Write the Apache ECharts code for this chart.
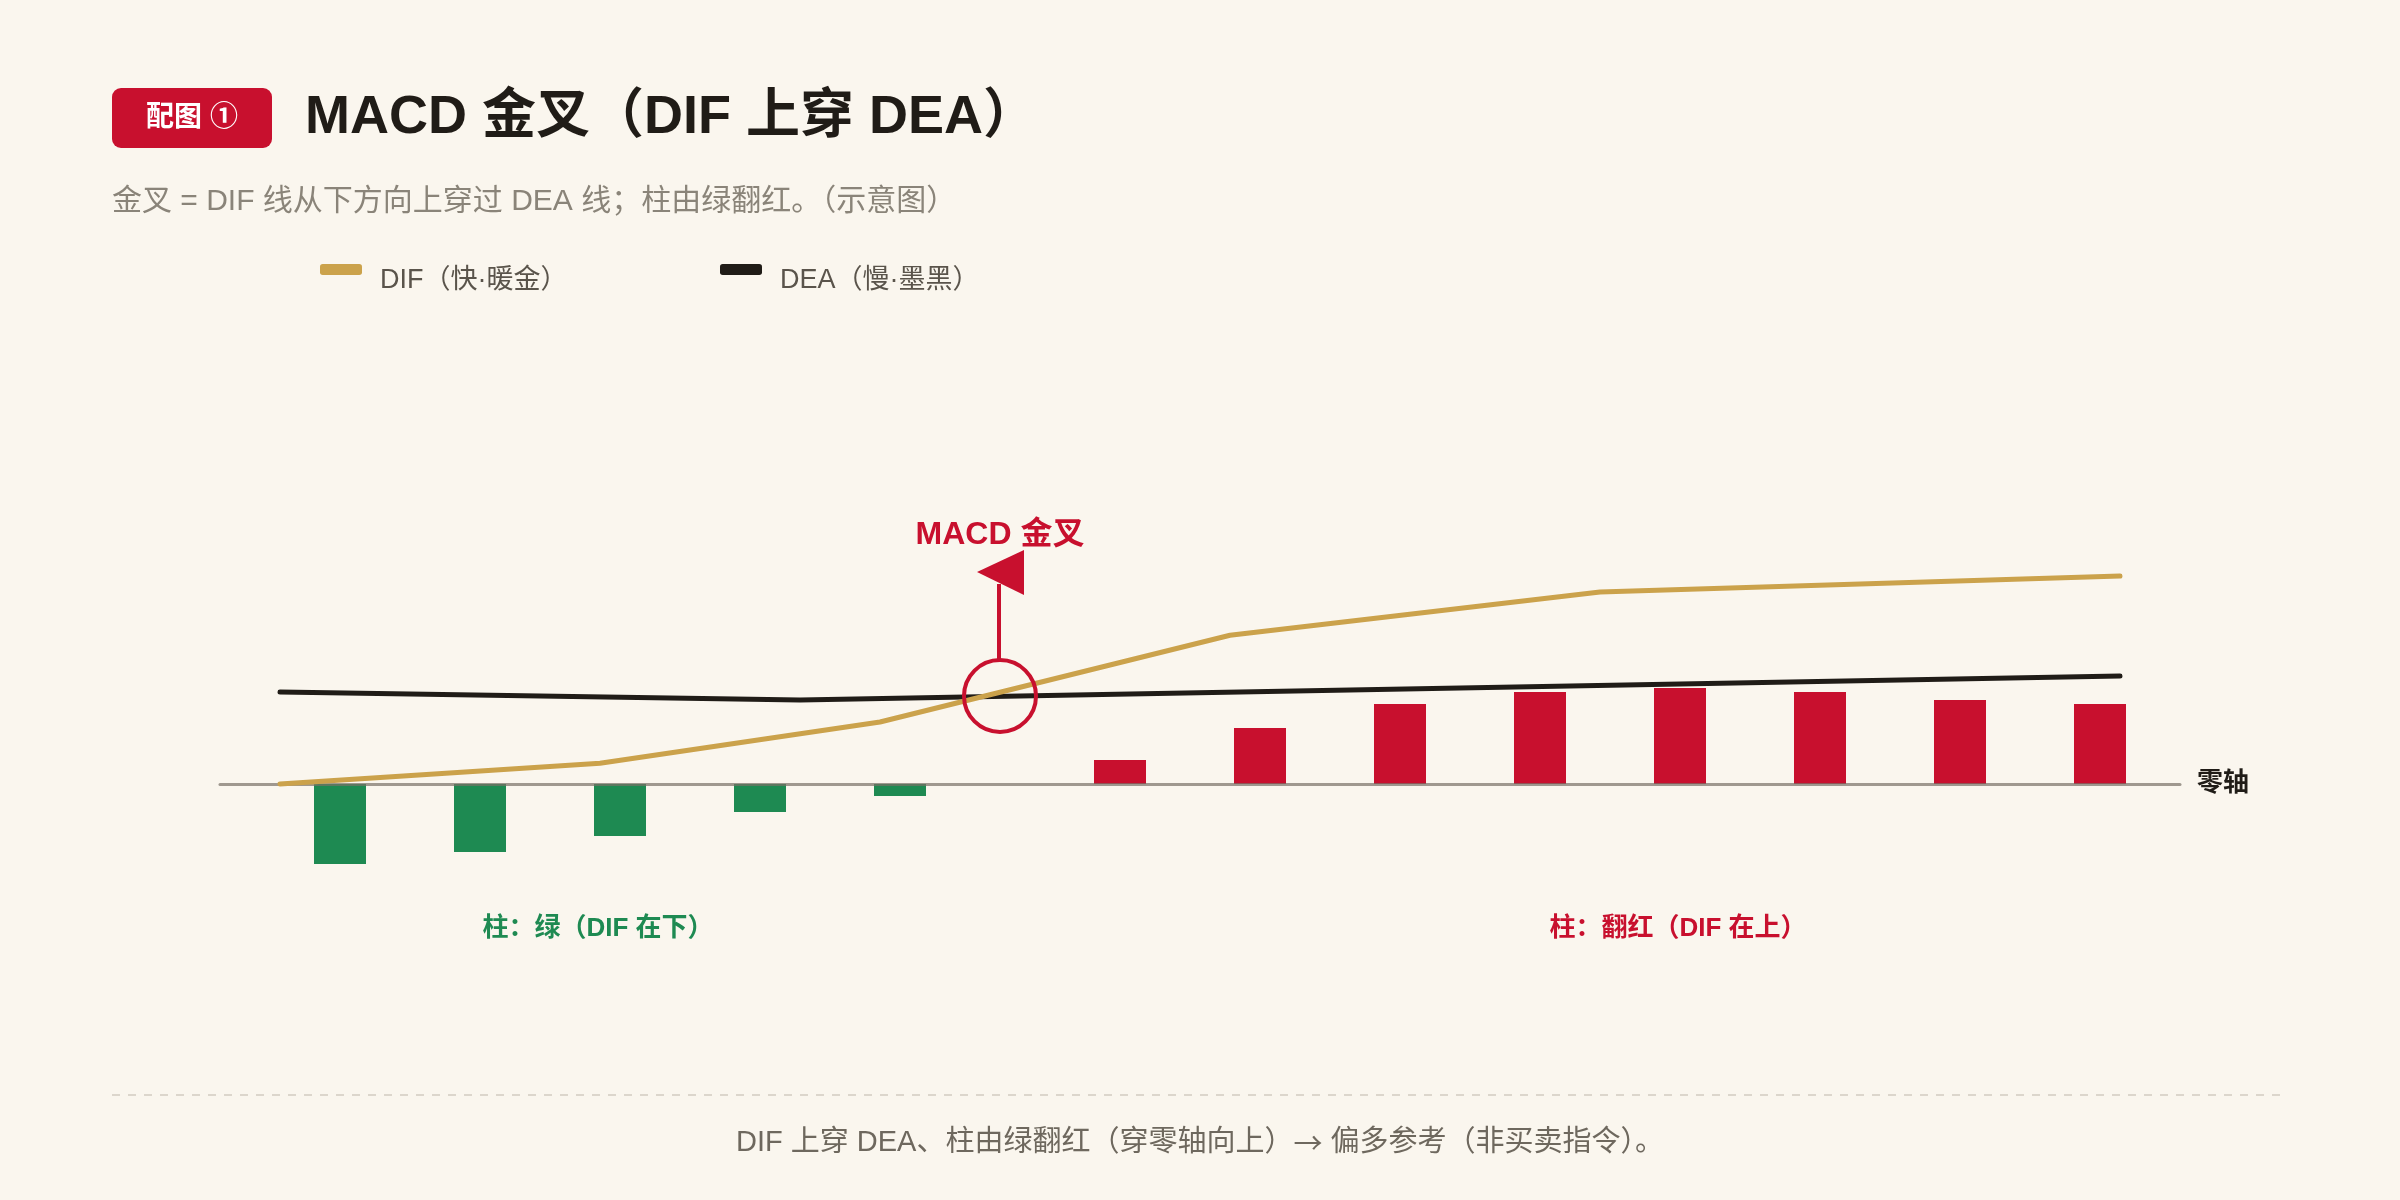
<!DOCTYPE html>
<html>
<head>
<meta charset="utf-8">
<title>MACD 金叉</title>
<script src="https://cdn.jsdelivr.net/npm/echarts@6/dist/echarts.min.js"></script>
<style>
    html, body {margin: 0; padding: 0; background: #FAF6EE;}
    #macdChart {width: 2400px; height: 1200px;}
</style>
</head>
<body>
<div id="macdChart"></div>
<script>
// 柱的位置（横向单位）和高度
var barX = [6, 13, 20, 27, 34, 45, 52, 59, 66, 73, 80, 87, 94];
var barValue = [-20, -17, -13, -7, -3, 6, 14, 20, 23, 24, 23, 21, 20];
// 两条线的折点
var difX = [3, 19, 33, 50.5, 69, 95];
var difValue = [0, 5.2, 15.5, 37.2, 48, 52];
var deaX = [3, 29, 95];
var deaValue = [23, 21, 27];
// 金叉位置
var crossPoint = [39, 22];

var seriesNames = ['DIF（快·暖金）', 'DEA（慢·墨黑）'];
var fontFamily = "'Liberation Sans', 'Noto Sans CJK SC', sans-serif";
var cjkFirst = "'Noto Sans CJK SC', 'Liberation Sans', sans-serif";

var RED = '#C8102E', GREEN = '#1E8A52', GOLD = '#CBA24B', INK = '#201C17';

var pairs = function (xs, ys) {
    var out = [];
    for (var i = 0; i < xs.length; i++) {
        out.push([xs[i], ys[i]]);
    }
    return out;
};

var legendItem = function (name, left) {
    return {
        data: [name],
        left: left,
        top: 264,
        padding: 0,
        icon: 'roundRect',
        itemWidth: 42,
        itemHeight: 11,
        formatter: function (n) {
            return '{t|' + n + '}';
        },
        textStyle: {
            padding: [0, 0, 0, 13],
            rich: {t: {fontSize: 27, color: '#5A544B', padding: [22, 0, 0, 0]}}
        }
    };
};

var myChart = echarts.init(document.getElementById("macdChart"));

var option = {
    backgroundColor: '#FAF6EE',
    animation: false,
    textStyle: {fontFamily: fontFamily},
    title: [
        {
            text: 'MACD 金叉（DIF 上穿 DEA）',
            left: 305,
            top: 88,
            padding: 0,
            textStyle: {fontSize: 54, fontWeight: 'bold', color: INK, lineHeight: 60, fontFamily: fontFamily}
        },
        {
            text: '金叉 = DIF 线从下方向上穿过 DEA 线；柱由绿翻红。（示意图）',
            left: 112,
            top: 185,
            padding: 0,
            textStyle: {fontSize: 30, fontWeight: 'normal', color: '#8A8479', lineHeight: 34, fontFamily: fontFamily}
        }
    ],
    legend: [legendItem(seriesNames[0], 320), legendItem(seriesNames[1], 720)],
    grid: {left: 220, right: 220, top: 544, bottom: 256},
    xAxis: {
        type: 'value',
        min: 0,
        max: 98,
        z: 3,
        name: '零轴',
        nameLocation: 'end',
        nameGap: 17,
        nameTextStyle: {fontSize: 26, fontWeight: 'bold', color: INK, align: 'left', verticalAlign: 'middle'},
        axisLine: {show: true, onZero: true, lineStyle: {color: 'rgba(120,113,103,0.7)', width: 3}},
        axisTick: {show: false},
        axisLabel: {show: false},
        splitLine: {show: false}
    },
    yAxis: {
        type: 'value',
        min: -40,
        max: 60,
        show: false,
        splitLine: {show: false}
    },
    series: [
        {
            name: 'MACD',
            type: 'bar',
            barWidth: 52,
            data: pairs(barX, barValue),
            itemStyle: {
                color: function (p) {
                    return p.value[1] < 0 ? GREEN : RED;
                }
            }
        },
        {
            name: seriesNames[1],
            type: 'line',
            data: pairs(deaX, deaValue),
            symbol: 'none',
            color: INK,
            lineStyle: {color: INK, width: 5, cap: 'round', join: 'round'},
            z: 4
        },
        {
            name: seriesNames[0],
            type: 'line',
            data: pairs(difX, difValue),
            symbol: 'none',
            color: GOLD,
            lineStyle: {color: GOLD, width: 5, cap: 'round', join: 'round'},
            z: 5
        },
        {
            // 金叉标记：圈 + 小旗 + 文字
            name: 'cross',
            type: 'custom',
            z: 10,
            silent: true,
            data: [crossPoint],
            renderItem: function (params, api) {
                var p = api.coord([api.value(0), api.value(1)]);
                var cx = p[0], cy = p[1];
                return {
                    type: 'group',
                    children: [
                        {
                            type: 'circle',
                            shape: {cx: cx, cy: cy, r: 36},
                            style: {fill: 'none', stroke: RED, lineWidth: 4}
                        },
                        {
                            type: 'line',
                            shape: {x1: cx - 1, y1: cy - 37, x2: cx - 1, y2: cy - 112},
                            style: {stroke: RED, lineWidth: 4}
                        },
                        {
                            type: 'polygon',
                            shape: {points: [[cx + 24, cy - 146], [cx + 24, cy - 101], [cx - 23, cy - 124]]},
                            style: {fill: RED}
                        },
                        {
                            type: 'text',
                            x: cx,
                            y: cy - 161,
                            style: {
                                text: 'MACD 金叉',
                                fill: RED,
                                font: 'bold 32px ' + fontFamily,
                                align: 'center',
                                verticalAlign: 'middle'
                            }
                        }
                    ]
                };
            }
        }
    ],
    graphic: [
        {
            type: 'rect',
            left: 112,
            top: 88,
            shape: {width: 160, height: 60, r: 9},
            style: {fill: RED}
        },
        {
            type: 'text',
            x: 192,
            y: 118,
            style: {text: '配图 ①', fill: '#fff', font: 'bold 28px ' + fontFamily, align: 'center', verticalAlign: 'middle'}
        },
        {
            type: 'text',
            x: 598,
            y: 929,
            style: {text: '柱：绿（DIF 在下）', fill: GREEN, font: 'bold 26px ' + fontFamily, align: 'center', verticalAlign: 'middle'}
        },
        {
            type: 'text',
            x: 1678,
            y: 929,
            style: {text: '柱：翻红（DIF 在上）', fill: RED, font: 'bold 26px ' + fontFamily, align: 'center', verticalAlign: 'middle'}
        },
        {
            type: 'line',
            shape: {x1: 112, y1: 1095, x2: 2288, y2: 1095},
            style: {stroke: '#DCD6CC', lineWidth: 2, lineDash: [8, 8]}
        },
        {
            type: 'text',
            x: 1200,
            y: 1143,
            style: {
                text: '{a|DIF 上穿 DEA、柱由绿翻红（穿零轴向上）}{b|→}{a| 偏多参考（非买卖指令）。}',
                align: 'center',
                verticalAlign: 'middle',
                rich: {
                    a: {fontSize: 29, fontFamily: fontFamily, fill: '#6E685E'},
                    b: {fontSize: 29, fontFamily: cjkFirst, fill: '#6E685E'}
                }
            }
        }
    ]
};
myChart.setOption(option);
</script>
</body>
</html>
